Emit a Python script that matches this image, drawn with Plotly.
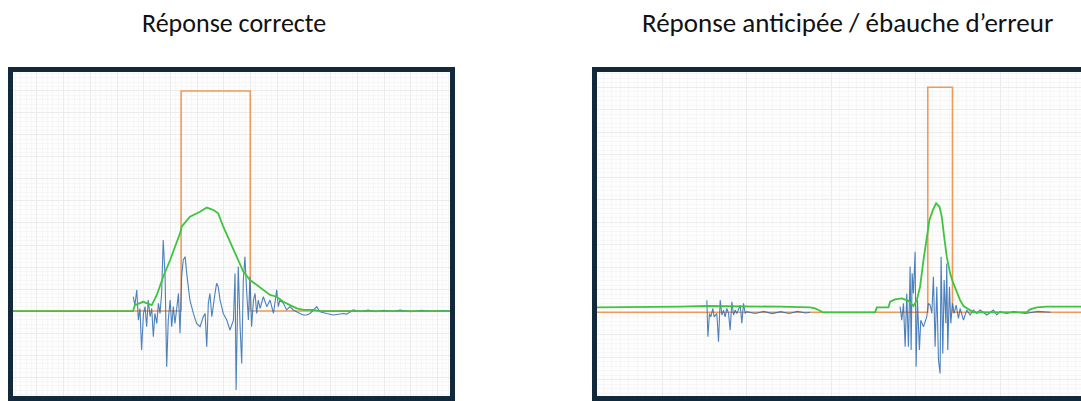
import plotly.graph_objects as go

W, H = 1081, 401

# ---------------- data (grid units) ----------------
titles = ["Réponse correcte", "Réponse anticipée / ébauche d\u2019erreur"]

# Left panel: correct response
L_stim_x = [0.105, 6.40, 6.40, 8.99, 8.99, 16.47]
L_stim_y = [0, 0, 10, 10, 0, 0]

L_env_x = [0.105, 4.60, 4.67, 4.98, 5.30, 5.49, 5.73, 5.99, 6.36, 6.42, 6.73, 7.11, 7.36,
           7.61, 7.79, 7.98, 8.23, 8.48, 8.73, 8.98, 9.23, 9.48, 9.73, 9.98, 10.23,
           10.48, 10.73, 10.98, 11.35, 11.60, 16.47]
L_env_y = [0, 0, 0.27, 0.42, 0.27, 0.73, 1.56, 2.32, 3.53, 3.83, 4.29, 4.51, 4.70,
           4.59, 4.44, 3.83, 3.15, 2.47, 1.79, 1.41, 1.18, 0.95, 0.73, 0.65, 0.42,
           0.27, 0.12, 0.05, 0.05, 0, 0]

L_emg_x = [4.61, 4.67, 4.74, 4.80, 4.86, 4.92, 4.99, 5.05, 5.11, 5.17, 5.24, 5.30,
           5.36, 5.42, 5.49, 5.55, 5.61, 5.67, 5.73, 5.80, 5.86, 5.92, 5.99, 6.05,
           6.11, 6.17, 6.23, 6.30, 6.36, 6.42, 6.48, 6.55, 6.61, 6.67, 6.73, 6.86,
           6.98, 7.11, 7.23, 7.30, 7.36, 7.42, 7.48, 7.55, 7.61, 7.67, 7.73, 7.79,
           7.86, 7.92, 7.98, 8.11, 8.23, 8.36, 8.42, 8.46, 8.51, 8.54, 8.61, 8.67,
           8.73, 8.79, 8.86, 8.92, 8.98, 9.04, 9.11, 9.17, 9.23, 9.29, 9.36, 9.48,
           9.61, 9.73, 9.86, 9.98, 10.04, 10.10, 10.23, 10.35, 10.48, 10.60, 10.85,
           10.98, 11.10, 11.23, 11.48, 11.60, 11.85, 12.10, 12.48, 12.60, 12.85,
           13.10, 13.4, 13.7, 14.0, 14.3, 14.6, 15.0, 15.4, 15.8, 16.2, 16.47]
L_emg_y = [0.65, 0.27, 0.96, -0.41, 0.12, -1.77, -0.11, 0.20, -0.71, 0.50, -0.26, 0.12,
           -1.17, -0.11, -0.56, 0.35, -0.11, 0.80, 3.23, 1.56, -2.53, -0.41, 0.50, -0.71,
           0.20, -0.56, 0.05, 0.80, -1.01, 1.56, 2.32, 2.47, 1.71, 1.11, 0.50, -0.11,
           -0.56, -0.71, -0.26, -0.11, -1.62, 0.35, 0.80, -0.26, 0.35, 0.80, 1.26, 1.11,
           0.50, 0.20, -0.11, -0.41, -0.86, -0.41, 1.71, -3.59, 1.56, 2.02, -0.71, -2.38,
           1.41, 2.47, 0.80, -0.41, 1.56, -0.71, 0.50, 0.80, -0.11, 0.50, 0.12, 0.65,
           0.20, 0.50, -0.11, 0.96, 0.20, 0.50, 0.35, 0.05, 0.20, 0.05, -0.11,
           -0.18, -0.18, -0.11, 0.20, -0.03, -0.11, -0.18, -0.11, -0.14, 0.05,
           -0.03, 0.05, -0.03, 0.03, -0.02, 0.04, -0.03, 0.03, -0.02, 0.02, 0]

# Right panel: anticipated response / partial error
R_stim_x = [-0.776, 3.144, 3.144, 3.437, 3.437, 4.96]
R_stim_y = [0, 0, 10, 10, 0, 0]

R_env_x = [-0.776, -0.462, -0.185, 0.210, 0.526, 0.999, 1.395, 1.750, 1.809, 1.849,
           1.900, 2.520, 2.540, 2.678, 2.698, 2.757, 2.836, 2.915, 2.974, 3.014,
           3.053, 3.093, 3.132, 3.164, 3.204, 3.243, 3.283, 3.310, 3.338, 3.369,
           3.409, 3.440, 3.488, 3.527, 3.567, 3.626, 3.685, 4.317, 4.357, 4.436,
           4.554, 4.96]
R_env_y = [0.22, 0.22, 0.25, 0.25, 0.28, 0.28, 0.25, 0.22, 0.17, 0.10,
           0, 0, 0.22, 0.22, 0.47, 0.57, 0.62, 0.51, 0.28, 0.54,
           1.14, 2.32, 3.21, 4.10, 4.54, 4.84, 4.69, 4.25, 3.36, 2.47,
           1.73, 1.36, 0.91, 0.54, 0.28, 0.13, 0, 0, 0.13, 0.22,
           0.25, 0.25]

R_emg_x = [0.526, 0.538, 0.557, 0.573, 0.597, 0.613, 0.644, 0.664, 0.684, 0.704,
           0.723, 0.743, 0.763, 0.783, 0.802, 0.822, 0.842, 0.862, 0.881, 0.921,
           0.941, 0.960, 0.980, 0.999, 1.10, 1.20, 1.30, 1.40, 1.50, 1.60, 1.70,
           1.75, None,
           2.816, 2.836, 2.856, 2.876, 2.895, 2.915, 2.935, 2.947, 2.959, 2.974,
           2.994, 3.006, 3.022, 3.045, 3.061, 3.093, 3.132, 3.152, 3.172, 3.192,
           3.211, 3.231, 3.251, 3.271, 3.290, 3.302, 3.322, 3.338, 3.358, 3.369,
           3.381, 3.401, 3.417, 3.437, 3.456, 3.480, 3.508, 3.527, 3.567, 3.606,
           3.646, 3.685, 3.725, 3.764, 3.843, 3.922, 3.962, 4.001, 4.080, 4.159,
           4.30, 4.45, 4.60]
R_emg_y = [0.54, -1.09, -0.05, -0.20, 0.17, -0.20, -0.05, -1.31, 0.54, -0.12,
           0.10, -0.20, 0.17, -0.05, -0.79, 0.47, -0.12, 0.10, -0.05, 0.32,
           -0.49, 0.40, -0.05, 0.03, -0.05, 0.04, -0.06, 0.03, -0.05, 0.04, -0.03,
           0, None,
           0.25, -0.35, 0.40, -1.53, 0.84, -1.53, 2.03, -1.68, 1.73, 0.84,
           2.69, -2.42, 0.54, -1.68, -0.35, -0.64, -0.20, 0.40, 0.32, -0.05,
           1.58, -1.53, 1.14, -2.12, -2.72, 2.47, -1.83, 1.43, -0.49, 2.17,
           -1.68, 1.14, -0.49, 0.40, -0.05, 0.32, -0.27, 0.17, -0.35, 0.10,
           -0.12, 0.10, -0.05, 0.10, -0.12, 0.10, -0.12, 0.03, -0.05, 0.03,
           -0.05, 0.04, 0]

# ---------------- styling ----------------
ORANGE = "#ee9b5a"
GREEN = "#3fc43f"
BLUE = "#2e6cb0"
BORDER = "#11293a"
FONT = "Carlito, 'Liberation Sans Narrow', Lato, sans-serif"

fig = go.Figure()

def add_panel(xs, ys, xe, ye, xb, yb, xa, ya):
    fig.add_trace(go.Scatter(x=xs, y=ys, mode="lines", xaxis=xa, yaxis=ya,
                             line=dict(color=ORANGE, width=1.6), hoverinfo="skip"))
    fig.add_trace(go.Scatter(x=xb, y=yb, mode="lines", xaxis=xa, yaxis=ya,
                             line=dict(color=BLUE, width=1.1), opacity=0.85,
                             hoverinfo="skip", connectgaps=False))
    fig.add_trace(go.Scatter(x=xe, y=ye, mode="lines", xaxis=xa, yaxis=ya,
                             line=dict(color=GREEN, width=1.8), hoverinfo="skip"))

add_panel(L_stim_x, L_stim_y, L_env_x, L_env_y, L_emg_x, L_emg_y, "x", "y")
add_panel(R_stim_x, R_stim_y, R_env_x, R_env_y, R_emg_x, R_emg_y, "x2", "y2")

def px_x(p):
    return p / W

def px_y(p):
    return (H - p) / H

grid_major = "#ececec"
grid_minor = "#f6f6f6"

def axis(domain, rng, dtick, minor_dtick):
    return dict(domain=domain, range=rng, showticklabels=False, ticks="",
                showline=False, zeroline=False, showgrid=True,
                gridcolor=grid_major, gridwidth=1, tick0=0, dtick=dtick,
                minor=dict(showgrid=True, dtick=minor_dtick, gridcolor=grid_minor,
                           gridwidth=1, ticks=""),
                fixedrange=True)

fig.update_layout(
    width=W, height=H,
    margin=dict(l=0, r=0, t=0, b=0),
    paper_bgcolor="white",
    plot_bgcolor="#fdfdfd",
    showlegend=False,
    xaxis=axis([px_x(13), px_x(450)], [0.105, 16.47], 1, 0.2),
    yaxis=axis([px_y(396), px_y(72)], [-3.86, 10.86], 1, 0.2),
    xaxis2=axis([px_x(597), 1.0], [-0.776, 4.96], 1, 0.1),
    yaxis2=axis([px_y(396), px_y(72)], [-3.72, 10.68], 1, 0.2),
)
fig.layout.yaxis2.anchor = "x2"
fig.layout.xaxis2.anchor = "y2"

# panel frames
for x0, x1 in [(10.5, 452.5), (594.5, 1140)]:
    fig.add_shape(type="rect", xref="paper", yref="paper",
                  x0=px_x(x0), x1=px_x(x1), y0=px_y(398.5), y1=px_y(69.5),
                  line=dict(color=BORDER, width=5), fillcolor="rgba(0,0,0,0)",
                  layer="above")

# titles
for t, cx, fs in zip(titles, [234, 847.5], [26, 27]):
    fig.add_annotation(text=t, xref="paper", yref="paper", x=px_x(cx), y=px_y(23),
                       xanchor="center", yanchor="middle", showarrow=False,
                       font=dict(family=FONT, size=fs, color="#111111"))

fig.write_html("out.html", config={"displayModeBar": False, "staticPlot": True},
               post_script="document.body.style.margin='0';document.body.style.overflow='hidden';")
